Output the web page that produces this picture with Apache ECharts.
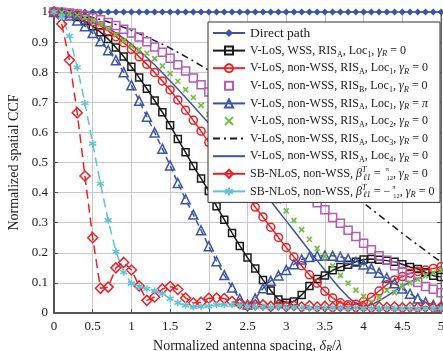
<!DOCTYPE html>
<html><head><meta charset="utf-8">
<script src="https://cdn.jsdelivr.net/npm/echarts@6/dist/echarts.min.js"></script>
<style>html,body{margin:0;padding:0;background:#fff}#c{width:443px;height:351px}</style>
</head><body><div id="c"></div>
<script>
const xValues = [0,0.1,0.2,0.3,0.4,0.5,0.6,0.7,0.8,0.9,1,1.1,1.2,1.3,1.4,1.5,1.6,1.7,1.8,1.9,2,2.1,2.2,2.3,2.4,2.5,2.6,2.7,2.8,2.9,3,3.1,3.2,3.3,3.4,3.5,3.6,3.7,3.8,3.9,4,4.1,4.2,4.3,4.4,4.5,4.6,4.7,4.8,4.9,5];
const directPath = [1,1,1,1,1,1,1,1,1,1,1,1,1,1,1,1,1,1,1,1,1,1,1,1,1,1,1,1,1,1,1,1,1,1,1,1,1,1,1,1,1,1,1,1,1,1,1,1,1,1,1];
const wssLoc1 = [1,0.998,0.993,0.983,0.97,0.953,0.933,0.91,0.882,0.852,0.818,0.782,0.745,0.706,0.667,0.624,0.578,0.534,0.488,0.447,0.405,0.355,0.31,0.266,0.223,0.184,0.148,0.11,0.075,0.045,0.034,0.038,0.06,0.09,0.113,0.125,0.142,0.153,0.16,0.17,0.178,0.179,0.177,0.174,0.17,0.162,0.153,0.146,0.135,0.124,0.12];
const nonWssLoc1 = [1,0.999,0.995,0.989,0.98,0.968,0.954,0.937,0.918,0.898,0.876,0.851,0.826,0.799,0.771,0.741,0.708,0.674,0.64,0.604,0.567,0.531,0.495,0.459,0.423,0.387,0.352,0.319,0.285,0.251,0.218,0.186,0.157,0.127,0.099,0.072,0.05,0.034,0.027,0.029,0.038,0.052,0.073,0.094,0.11,0.121,0.132,0.138,0.143,0.148,0.154];
const risBLoc1 = [1,0.999,0.997,0.993,0.988,0.981,0.974,0.965,0.955,0.943,0.93,0.917,0.901,0.884,0.866,0.846,0.825,0.804,0.781,0.758,0.734,0.709,0.684,0.658,0.632,0.606,0.58,0.553,0.527,0.501,0.475,0.448,0.421,0.395,0.366,0.343,0.317,0.298,0.275,0.254,0.232,0.21,0.19,0.175,0.157,0.138,0.118,0.101,0.088,0.079,0.067];
const gammaPiLoc1 = [1,0.997,0.988,0.972,0.953,0.93,0.903,0.873,0.84,0.8,0.757,0.705,0.652,0.6,0.546,0.49,0.432,0.378,0.327,0.275,0.222,0.172,0.126,0.085,0.047,0.028,0.048,0.082,0.107,0.125,0.143,0.162,0.178,0.186,0.19,0.191,0.19,0.187,0.18,0.17,0.161,0.148,0.134,0.117,0.099,0.081,0.064,0.048,0.036,0.027,0.022];
const nonWssLoc2 = [1,0.999,0.996,0.99,0.982,0.972,0.96,0.945,0.925,0.905,0.887,0.875,0.863,0.845,0.821,0.795,0.77,0.742,0.716,0.69,0.66,0.628,0.597,0.564,0.532,0.499,0.466,0.434,0.403,0.372,0.339,0.308,0.277,0.245,0.215,0.188,0.157,0.125,0.099,0.076,0.055,0.035,0.05,0.075,0.068,0.09,0.1,0.112,0.124,0.133,0.142];
const nonWssLoc3 = [1,0.999,0.997,0.993,0.988,0.982,0.975,0.967,0.958,0.949,0.939,0.928,0.917,0.905,0.893,0.88,0.866,0.852,0.837,0.822,0.806,0.789,0.771,0.752,0.732,0.711,0.689,0.666,0.642,0.618,0.594,0.57,0.546,0.522,0.498,0.474,0.451,0.428,0.406,0.384,0.366,0.345,0.325,0.305,0.285,0.265,0.245,0.226,0.207,0.188,0.17];
const nonWssLoc4 = [1,0.999,0.996,0.991,0.984,0.972,0.96,0.946,0.93,0.912,0.893,0.872,0.849,0.825,0.798,0.771,0.744,0.716,0.688,0.659,0.63,0.599,0.568,0.536,0.504,0.472,0.44,0.406,0.372,0.339,0.306,0.273,0.24,0.207,0.174,0.142,0.11,0.08,0.053,0.032,0.023,0.027,0.04,0.056,0.073,0.089,0.103,0.115,0.125,0.134,0.141];
const sbPlus = [1,0.96,0.84,0.665,0.455,0.25,0.082,0.086,0.15,0.168,0.143,0.09,0.042,0.053,0.08,0.088,0.078,0.05,0.033,0.036,0.049,0.05,0.048,0.038,0.031,0.024,0.027,0.027,0.022,0.027,0.022,0.025,0.02,0.024,0.02,0.022,0.018,0.022,0.02,0.018,0.02,0.017,0.02,0.018,0.02,0.017,0.019,0.017,0.02,0.018,0.02];
const sbMinus = [1,0.985,0.92,0.816,0.697,0.563,0.43,0.308,0.204,0.136,0.098,0.088,0.08,0.073,0.064,0.048,0.034,0.025,0.02,0.021,0.023,0.027,0.027,0.027,0.026,0.022,0.02,0.02,0.019,0.02,0.018,0.02,0.017,0.018,0.016,0.018,0.016,0.017,0.015,0.017,0.015,0.016,0.015,0.016,0.014,0.016,0.015,0.014,0.016,0.015,0.016];

const legendLabels = {
  s1: '{d|Direct path}',
  s2: 'V-LoS, WSS, RIS{s|A}, Loc{s|1}, {i|γ}{si|R} = 0',
  s3: 'V-LoS, non-WSS, RIS{s|A}, Loc{s|1}, {i|γ}{si|R} = 0',
  s4: 'V-LoS, non-WSS, RIS{s|B}, Loc{s|1}, {i|γ}{si|R} = 0',
  s5: 'V-LoS, non-WSS, RIS{s|A}, Loc{s|1}, {i|γ}{si|R} = {i|π}',
  s6: 'V-LoS, non-WSS, RIS{s|A}, Loc{s|2}, {i|γ}{si|R} = 0',
  s7: 'V-LoS, non-WSS, RIS{s|A}, Loc{s|3}, {i|γ}{si|R} = 0',
  s8: 'V-LoS, non-WSS, RIS{s|A}, Loc{s|4}, {i|γ}{si|R} = 0',
  s9: 'SB-NLoS, non-WSS, {i|β}{sup|T}{si|ℓ1} = {ft|π}{fb|12}, {i|γ}{si|R} = 0',
  s10: 'SB-NLoS, non-WSS, {i|β}{sup|T}{si|ℓ1} = −{ft|π}{fb|12}, {i|γ}{si|R} = 0'
};

const pair = arr => arr.map((v, i) => [xValues[i], v]);
const BLUE = '#3a55a6', BLACK = '#1b1b1b', RED = '#ec2227', MAG = '#b45cb6', GREEN = '#72bf44', CYAN = '#5cc3d8';
const CLEAR = 'rgba(0,0,0,0)';
const XSYM = 'path://M0,0L10,10M10,0L0,10';
const STAR = 'path://M5,0L5,10M0.7,2.5L9.3,7.5M0.7,7.5L9.3,2.5';

function lineSeries(name, data, color, opts) {
  return Object.assign({
    name, type: 'line', data: pair(data), showSymbol: true, animation: false,
    lineStyle: {color, width: 1.5},
    itemStyle: {color: CLEAR, borderColor: color, borderWidth: 1.5},
    emphasis: {disabled: true}
  }, opts);
}

const series = [
  lineSeries('s1', directPath, BLUE, {symbol: 'diamond', symbolSize: 7, itemStyle: {color: BLUE, borderColor: BLUE, borderWidth: 0}}),
  lineSeries('s2', wssLoc1, BLACK, {symbol: 'rect', symbolSize: 7}),
  lineSeries('s3', nonWssLoc1, RED, {symbol: 'circle', symbolSize: 8}),
  lineSeries('s4', risBLoc1, MAG, {symbol: 'rect', symbolSize: 8, lineStyle: {color: MAG, width: 0, opacity: 0}}),
  lineSeries('s5', gammaPiLoc1, BLUE, {symbol: 'triangle', symbolSize: 9, lineStyle: {color: BLUE, width: 1.5, type: [6, 4]}}),
  lineSeries('s6', nonWssLoc2, GREEN, {symbol: XSYM, symbolSize: 5, itemStyle: {color: CLEAR, borderColor: GREEN, borderWidth: 1.7}, lineStyle: {color: GREEN, width: 0, opacity: 0}}),
  lineSeries('s7', nonWssLoc3, BLACK, {symbol: 'none', lineStyle: {color: BLACK, width: 1.5, type: [7, 4, 2, 4]}}),
  lineSeries('s8', nonWssLoc4, BLUE, {symbol: 'none', lineStyle: {color: BLUE, width: 1.5}}),
  lineSeries('s9', sbPlus, RED, {symbol: 'diamond', symbolSize: 10, lineStyle: {color: RED, width: 1.5, type: [9, 5]}}),
  lineSeries('s10', sbMinus, CYAN, {symbol: STAR, symbolSize: 7, itemStyle: {color: CLEAR, borderColor: CYAN, borderWidth: 1.5}, lineStyle: {color: CYAN, width: 1.5, type: [9, 5]}})
];

const chart = echarts.init(document.getElementById('c'), null, {renderer: 'canvas'});
const FONT = 'Liberation Serif';
chart.setOption({
  backgroundColor: '#fff',
  animation: false,
  textStyle: {fontFamily: FONT},
  grid: {left: 54, right: 2, top: 12, bottom: 38, outerBoundsMode: 'none', containLabel: false,
         show: true, borderColor: '#666', borderWidth: 1, backgroundColor: 'transparent'},
  xAxis: [{
    type: 'value', min: 0, max: 5, interval: 0.5,
    name: 'Normalized antenna spacing, {i|δ}{si|R}{n|/}{i|λ}', nameLocation: 'middle', nameGap: 20,
    nameTextStyle: {fontFamily: FONT, fontSize: 14, color: '#222', lineHeight: 16,
      rich: {i: {fontStyle: 'italic', fontSize: 14, lineHeight: 16, fontFamily: FONT}, n: {fontSize: 14, lineHeight: 16, fontFamily: FONT},
             si: {fontStyle: 'italic', fontSize: 10, lineHeight: 9, verticalAlign: 'bottom', fontFamily: FONT}}},
    axisLine: {show: true, lineStyle: {color: '#555', width: 2}},
    axisTick: {show: true, inside: true, length: 4, lineStyle: {color: '#555'}},
    axisLabel: {color: '#222', fontSize: 13, margin: 7, fontFamily: FONT},
    splitLine: {show: true, lineStyle: {color: '#c9c9c9', width: 1}}
  }],
  yAxis: [{
    type: 'value', min: 0, max: 1, interval: 0.1,
    name: 'Normalized spatial CCF', nameLocation: 'middle', nameGap: 32,
    nameTextStyle: {fontFamily: FONT, fontSize: 14, color: '#222'},
    axisLine: {show: true, lineStyle: {color: '#555', width: 2}},
    axisTick: {show: true, inside: true, length: 4, lineStyle: {color: '#555'}},
    axisLabel: {color: '#222', fontSize: 13, margin: 6, fontFamily: FONT},
    splitLine: {show: true, lineStyle: {color: '#c9c9c9', width: 1}}
  }, {
    type: 'value', min: 0, max: 1, interval: 0.1, position: 'right',
    axisLine: {show: true, lineStyle: {color: '#666', width: 1}},
    axisTick: {show: true, inside: true, length: 4, lineStyle: {color: '#555'}},
    axisLabel: {show: false}, splitLine: {show: false}
  }],
  legend: {
    orient: 'vertical', left: 208, top: 22, padding: [3, 4, 3, 4], itemGap: 1.6,
    itemWidth: 32, itemHeight: 10,
    backgroundColor: '#fff', borderColor: '#333', borderWidth: 1,
    selectedMode: false,
    data: [
      {name: 's1'}, {name: 's2'}, {name: 's3'}, {name: 's4'},
      {name: 's5', lineStyle: {type: 'solid'}}, {name: 's6'},
      {name: 's7', itemStyle: {opacity: 0}}, {name: 's8', itemStyle: {opacity: 0}},
      {name: 's9', lineStyle: {type: 'solid'}}, {name: 's10', lineStyle: {type: 'solid'}}
    ],
    formatter: n => legendLabels[n],
    textStyle: {fontFamily: FONT, fontSize: 12, lineHeight: 16, color: '#222', width: 186,
      rich: {
        d: {fontSize: 13.5, lineHeight: 16, fontFamily: FONT},
        s: {fontSize: 8, lineHeight: 9, verticalAlign: 'bottom', fontFamily: FONT},
        si: {fontSize: 8.5, lineHeight: 9, verticalAlign: 'bottom', fontStyle: 'italic', fontFamily: FONT},
        sup: {fontSize: 8, lineHeight: 9, verticalAlign: 'top', fontStyle: 'italic', fontFamily: FONT, width: 1},
        i: {fontSize: 12, lineHeight: 16, fontStyle: 'italic', fontFamily: FONT},
        ft: {fontSize: 7, lineHeight: 8, verticalAlign: 'top', fontFamily: FONT, width: 1, padding: [0, 0, 0, 2]},
        fb: {fontSize: 6.5, lineHeight: 8, verticalAlign: 'bottom', fontFamily: FONT}
      }}
  },
  series: series
});
</script>
</body></html>
